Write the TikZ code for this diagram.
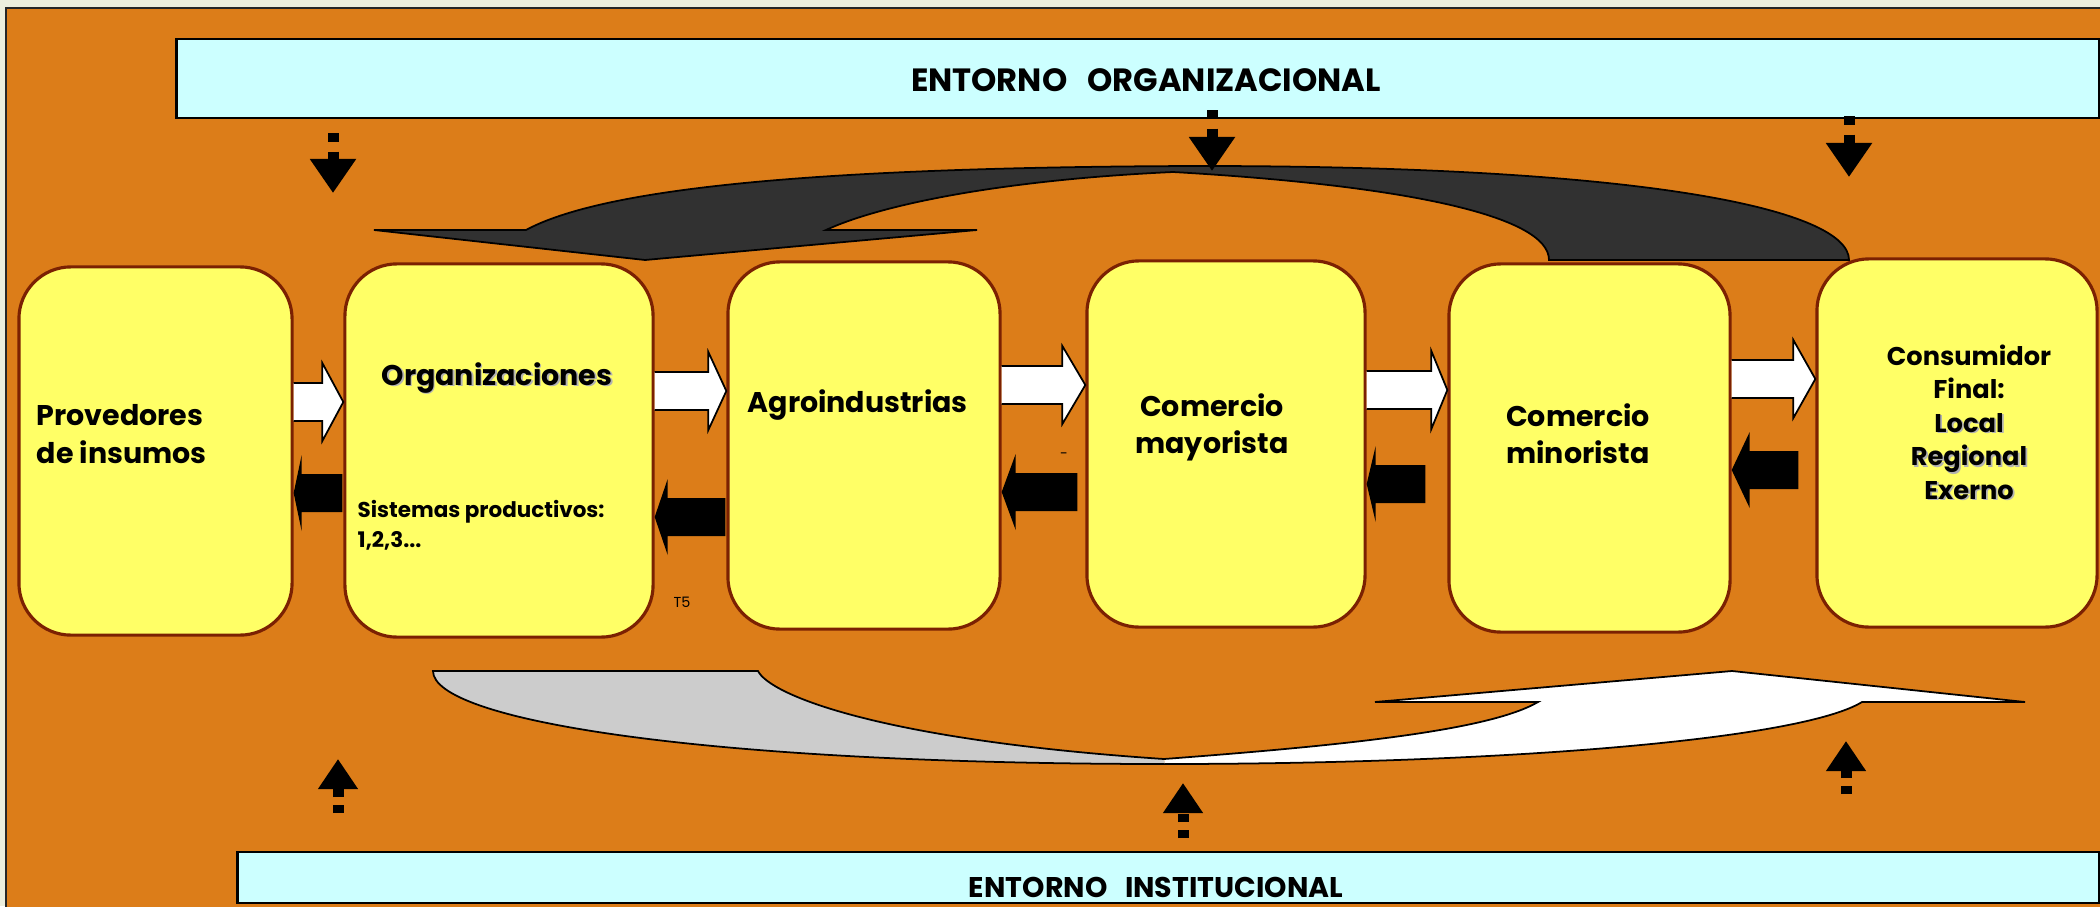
\documentclass[tikz,border=0pt]{standalone}
\usepackage{fontspec}
\setmainfont{Poppins}
\usetikzlibrary{arrows.meta, calc, positioning}

\definecolor{naranja}{HTML}{DC7D19}
\definecolor{celeste}{HTML}{CCFFFF}
\definecolor{amarillo}{HTML}{FFFF66}
\definecolor{borde}{HTML}{7B2102}
\definecolor{oscuro}{HTML}{313131}
\definecolor{gris}{HTML}{CCCCCC}
\definecolor{fondo}{HTML}{ECEEDD}

\newcommand{\sombra}[1]{\makebox[0pt][l]{\hspace{0.5pt}\raisebox{-0.5pt}{\textcolor{black!30}{#1}}}#1}

\newcommand{\flechablanca}[4]{%
  \filldraw[avance] (#1.east |- 0,{#3-19}) -- ($(#2.west |- 0,{#3-19})+(-#4,0)$)
    -- ($(#2.west |- 0,{#3-39})+(-#4,0)$) -- (#2.west |- 0,#3)
    -- ($(#2.west |- 0,{#3+39})+(-#4,0)$) -- ($(#2.west |- 0,{#3+19})+(-#4,0)$)
    -- (#1.east |- 0,{#3+19});}

\newcommand{\flechanegra}[5]{%
  \fill[retorno] ($(#1.west |- 0,{#3-19})+(-#5,0)$) -- ($(#2.east |- 0,{#3-19})+(#4,0)$)
    -- ($(#2.east |- 0,{#3-38})+(#4,0)$) -- (#2.east |- 0,#3)
    -- ($(#2.east |- 0,{#3+38})+(#4,0)$) -- ($(#2.east |- 0,{#3+19})+(#4,0)$)
    -- ($(#1.west |- 0,{#3+19})+(-#5,0)$) -- cycle;}

\begin{document}
\begin{tikzpicture}[x=0.01cm, y=-0.01cm,
        eslabon/.style={draw=borde, line width=0.9pt, fill=amarillo, rounded corners=0.52cm, inner sep=0pt},
        entorno/.style={draw=black, line width=0.6pt, fill=celeste, inner sep=0pt},
        avance/.style={draw=black, line width=0.5pt, fill=white},
        retorno/.style={fill=black},
        baja/.style={line width=0.11cm, dash pattern=on 0.085cm off 0.1cm, -{Triangle[length=0.34cm, width=0.44cm]}},
        sube/.style={line width=0.11cm, dash pattern=on 0.08cm off 0.08cm, -{Triangle[length=0.3cm, width=0.38cm]}},
        etiqueta/.style={font=\bfseries\fontsize{8.1}{10.8}\selectfont, inner sep=0pt}]
    \useasboundingbox (0,0) rectangle (2100,906);
    \fill[fondo] (0,0) rectangle (2100,906);
    \filldraw[fill=naranja, draw=black!85, line width=0.6pt] (6,8) rectangle (2130,940);

    \node[entorno, minimum width=19.21cm, minimum height=0.79cm] (eorg) at (1137.5,78.5) {};
    \node[entorno, minimum width=18.6cm, minimum height=0.51cm] (einst) at (1168,877.5) {};
    \node[etiqueta, anchor=base, font=\bfseries\fontsize{9.15}{11}\selectfont] (torg) at (1146,91) {ENTORNO\hspace{0.62em}ORGANIZACIONAL};
    \node[etiqueta, anchor=base] (tinst) at (1156,897) {ENTORNO\hspace{0.62em}INSTITUCIONAL};

    \filldraw[fill=oscuro, draw=black, line width=0.5pt]
        (526,230) .. controls (600,190) and (800,167) .. (1200,166)
        .. controls (1650,166) and (1849,210) .. (1849,260) -- (1549,260)
        .. controls (1549,215) and (1400,185) .. (1173,172)
        .. controls (1000,180) and (880,205) .. (826,230)
        -- (977,230) -- (645,260) -- (374,230) -- cycle;
    \filldraw[fill=gris, draw=black, line width=0.5pt]
        (1165,764) .. controls (700,764) and (433,720) .. (433,671) -- (758,671)
        .. controls (770,695) and (880,740) .. (1164,759);
    \filldraw[fill=white, draw=black, line width=0.5pt]
        (1164,759) .. controls (1350,745) and (1490,730) .. (1538,702)
        -- (1375,702) -- (1732,671) -- (2025,702) -- (1862,702)
        .. controls (1800,740) and (1500,764) .. (1165,764);

    \node[eslabon, minimum width=2.73cm, minimum height=3.68cm] (prov) at (155.5,451) {};
    \node[eslabon, minimum width=3.08cm, minimum height=3.73cm] (org) at (499,450.5) {};
    \node[eslabon, minimum width=2.72cm, minimum height=3.67cm] (agro) at (864,445.5) {};
    \node[eslabon, minimum width=2.78cm, minimum height=3.66cm] (mayor) at (1226,444) {};
    \node[eslabon, minimum width=2.81cm, minimum height=3.68cm] (minor) at (1589.5,448) {};
    \node[eslabon, minimum width=2.80cm, minimum height=3.68cm] (cons) at (1957,443) {};

    \flechablanca{prov}{org}{402}{21}
    \flechablanca{org}{agro}{391}{18}
    \flechablanca{agro}{mayor}{385}{23}
    \flechablanca{mayor}{minor}{390}{16}
    \flechablanca{minor}{cons}{379}{22}
    \flechanegra{org}{prov}{493}{8}{1}
    \flechanegra{agro}{org}{517}{13}{1}
    \flechanegra{mayor}{agro}{492}{14}{8}
    \flechanegra{minor}{mayor}{484}{9}{22}
    \flechanegra{cons}{minor}{470}{18}{17}

    \node[etiqueta, align=left, anchor=base west] (tprov) at (36,463) {Provedores\\de insumos};
    \node[etiqueta, anchor=base] (torga) at (497,385) {\sombra{Organizaciones}};
    \node[etiqueta, align=left, anchor=base west, font=\bfseries\fontsize{6.1}{8.3}\selectfont] (tsis) at (357,547) {Sistemas productivos:\\1,2,3...};
    \node[etiqueta, anchor=base west] (tagro) at (747,412) {Agroindustrias};
    \node[etiqueta, align=center, anchor=base, font=\bfseries\fontsize{8.1}{10.3}\selectfont] (tmayor) at (1212,453) {Comercio\\mayorista};
    \node[etiqueta, align=center, anchor=base, font=\bfseries\fontsize{8.1}{10.5}\selectfont] (tminor) at (1578,463) {Comercio\\minorista};
    \node[etiqueta, align=center, anchor=base, font=\bfseries\fontsize{7.3}{9.5}\selectfont] (tcons) at (1969,499) {Consumidor\\Final:\\\sombra{Local}\\\sombra{Regional}\\\sombra{Exerno}};
    \node[etiqueta, anchor=base, font=\fontsize{4.1}{5}\selectfont] (tt5) at (682,607) {T5};
    \node[etiqueta, anchor=base, font=\fontsize{4}{5}\selectfont] (tguion) at (1064,458) {-};

    \coordinate (o1) at (333,133);
    \coordinate (o1f) at (333,193);
    \coordinate (o2) at (1212,110);
    \coordinate (o2f) at (1212,171);
    \coordinate (o3) at (1849,116);
    \coordinate (o3f) at (1849,177);
    \coordinate (i1) at (338,813);
    \coordinate (i1f) at (338,759);
    \coordinate (i2) at (1183,838);
    \coordinate (i2f) at (1183,783);
    \coordinate (i3) at (1846,794);
    \coordinate (i3f) at (1846,741);
    \draw[baja] (o1) -- (o1f);
    \draw[baja] (o2) -- (o2f);
    \draw[baja] (o3) -- (o3f);
    \draw[sube] (i1) -- (i1f);
    \draw[sube] (i2) -- (i2f);
    \draw[sube] (i3) -- (i3f);
\end{tikzpicture}
\end{document}
